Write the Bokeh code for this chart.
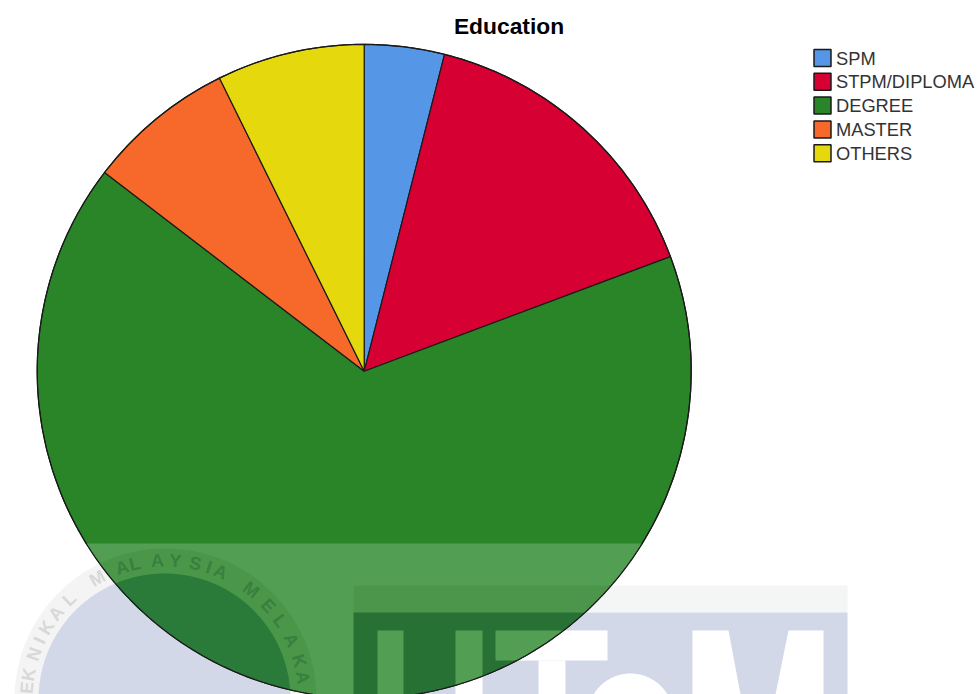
import numpy as np
from bokeh.core.properties import value
from bokeh.embed import file_html
from bokeh.models import Range1d
from bokeh.plotting import figure
from bokeh.resources import INLINE

# Survey breakdown
categories = ["SPM", "STPM/DIPLOMA", "DEGREE", "MASTER", "OTHERS"]
shares = [3.95, 15.35, 66.1, 7.3, 7.3]
colors = ["#5596E6", "#D60032", "#2A8529", "#F7692B", "#E5D90E"]
title_text = "Education"
seal_text = "EKNIKAL MALAYSIA MELAKA"

W, H = 977, 694
CX, CY, R = 363.7, 370.8, 327
SEAL_X, SEAL_Y, SEAL_OUTER, SEAL_INNER, SEAL_TEXT_R = 165, 699, 151, 126, 139


def flip(y):
    return H - np.asarray(y, dtype=float)


def circle_poly(cx, cy, r, n=360):
    t = np.linspace(0, 2 * np.pi, n, endpoint=False)
    return list(zip(cx + r * np.cos(t), cy + r * np.sin(t)))


def box(x0, y0, x1, y1):
    return [(x0, y0), (x1, y0), (x1, y1), (x0, y1)]


def clip_to_pie(poly):
    """Sutherland-Hodgman clip of a polygon against the pie's outline."""
    clip = circle_poly(CX, CY, R)
    out = poly
    for (ax, ay), (bx, by) in zip(clip, clip[1:] + clip[:1]):
        src, out = out, []
        side = lambda q: (bx - ax) * (q[1] - ay) - (by - ay) * (q[0] - ax)
        for i, cur in enumerate(src):
            prev = src[i - 1]
            sc, sp = side(cur), side(prev)
            if (sc >= 0) != (sp >= 0):
                k = sp / (sp - sc)
                out.append((prev[0] + k * (cur[0] - prev[0]), prev[1] + k * (cur[1] - prev[1])))
            if sc >= 0:
                out.append(cur)
        if not out:
            return []
    return out


p = figure(width=W, height=H, x_range=Range1d(0, W), y_range=Range1d(0, H),
           toolbar_location=None, output_backend="svg", min_border=0,
           background_fill_color="white", border_fill_color="white", outline_line_color=None)
p.axis.visible = False
p.grid.visible = False


def fill(poly, color):
    if poly:
        xs, ys = zip(*poly)
        p.patch(list(xs), list(flip(ys)), fill_color=color, line_color=None)


# University logo shapes: (polygon, colour on paper, colour over the pie)
ring = circle_poly(SEAL_X, SEAL_Y, SEAL_OUTER)
disc = circle_poly(SEAL_X - 1, SEAL_Y, SEAL_INNER)
strip = box(353, 585, 847, 612)
panel = box(353, 612, 847, H)
band = box(0, 543, W, H)
background_shapes = [(ring, "#F4F4F4", "#4A974A"), (disc, "#D2D8E8", "#2A7A3A"),
                     (strip, "#F4F5F5", "#4C964C"), (panel, "#D2D8E8", "#277135")]

bowl_e = circle_poly(630, 716, 43)
letters = [box(377, 630, 403, H), box(455, 630, 482, H),            # U
           box(495, 630, 607, 660), box(538, 660, 565, H),          # T
           bowl_e,                                                  # e
           [(692, 630), (728, 630), (740, H), (775, H), (788, 630), (823, 630), (823, H), (692, H)]]  # M

for poly, paper, _ in background_shapes:
    fill(poly, paper)
for poly in letters:
    fill(poly, "white")

# Pie slices, clockwise from twelve o'clock
frac = np.cumsum([0] + shares) / sum(shares)
starts = np.pi / 2 - 2 * np.pi * frac[:-1]
ends = np.pi / 2 - 2 * np.pi * frac[1:]
p.wedge(x=[CX] * 5, y=list(flip([CY] * 5)), radius=R, start_angle=list(starts), end_angle=list(ends),
        direction="clock", fill_color=colors, line_color="#1A1A1A", line_width=1.2)

# Logo as it shows through the lower part of the pie
fill(clip_to_pie(band), "#529E52")
for poly, _, over in background_shapes:
    fill(clip_to_pie(poly), over)
for poly in letters:
    fill(clip_to_pie(poly), "#529E52")
t = np.linspace(0, 2 * np.pi, 721)
p.line(CX + R * np.cos(t), flip(CY + R * np.sin(t)), line_color="#1A1A1A", line_width=1.2)

# Seal lettering set around the ring
seal_angles = np.array([-85.2, -79.6, -71, -64.9, -58.8, -51.7, -43.8,
                        -29.4, -18.2, -12.8, -3.3, 4.1, 12.4, 18.2, 23.4,
                        38, 47.7, 55.5, 64.7, 73.9, 80.9], dtype=float)
seal_letters = [c for c in seal_text if c != " "]
for ch, a in zip(seal_letters, seal_angles):
    th = np.radians(a)
    lx = SEAL_X + SEAL_TEXT_R * np.sin(th)
    ly = SEAL_Y - SEAL_TEXT_R * np.cos(th)
    inside = (lx - CX) ** 2 + (ly - CY) ** 2 < R ** 2
    p.text([lx], list(flip([ly])), text=[ch], angle=-th, text_align="center", text_baseline="middle",
           text_font=value("Liberation Sans"), text_font_style="bold", text_font_size="18px",
           text_color="#37803E" if inside else "#D8D8D8")

# Title
p.text([508.5], list(flip([25])), text=[title_text], text_align="center", text_baseline="middle",
       text_font=value("Liberation Sans"), text_font_style="bold", text_font_size="22.8px", text_color="black")

# Legend
rows = 57.5 + 23.8 * np.arange(len(categories))
p.rect(x=[822] * 5, y=list(flip(rows)), width=17, height=17, fill_color=colors, line_color="#1A1A1A", line_width=1.5)
p.text([835.5] * 5, list(flip(rows)), text=categories, text_align="left", text_baseline="middle",
       text_font=value("Liberation Sans"), text_font_size="18.3px", text_color="#333333")

open("out.html", "w").write(file_html(p, INLINE))
